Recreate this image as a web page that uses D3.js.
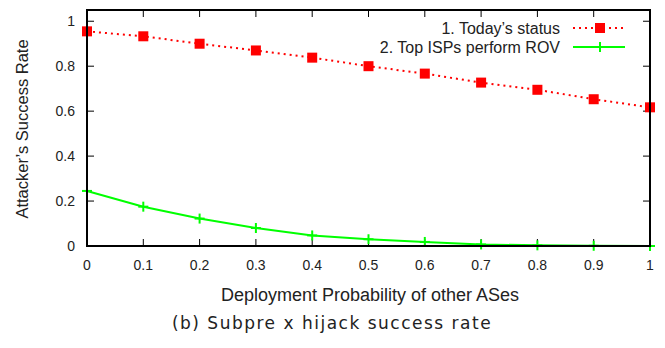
<!DOCTYPE html>
<meta charset="utf-8">
<style>
body{margin:0;background:#fff;}
svg text{font-family:"Liberation Sans",Arial,sans-serif;fill:#222;}
.caption{font-family:"DejaVu Sans",sans-serif;}
</style>
<svg id="chart" width="665" height="348"></svg>
<script src="https://d3js.org/d3.v7.min.js"></script>
<script>
// deployment probability of other ASes
const probs = [0, 0.1, 0.2, 0.3, 0.4, 0.5, 0.6, 0.7, 0.8, 0.9, 1]
const todayStatus = [0.955, 0.933, 0.9, 0.87, 0.838, 0.8, 0.767, 0.727, 0.695, 0.653, 0.617]
const topIspsRov = [0.245, 0.175, 0.122, 0.08, 0.047, 0.03, 0.018, 0.007, 0.003, 0.001, 0.0]
const xTicks = [0, 0.1, 0.2, 0.3, 0.4, 0.5, 0.6, 0.7, 0.8, 0.9, 1]
const yTicks = [0, 0.2, 0.4, 0.6, 0.8, 1]

const svg = d3.select('#chart')
const pLeft = 87, pRight = 650, pTop = 10, pBottom = 246

let x = d3.scaleLinear().domain([0, 1]).range([pLeft, pRight])
let y = d3.scaleLinear().domain([0, 1.05]).range([pBottom, pTop])

// ticks, inward on all four sides
let g = svg.append('g').attr('stroke', '#000').attr('stroke-width', 1)
xTicks.forEach(t => {
  g.append('line').attr('x1', x(t)).attr('x2', x(t)).attr('y1', pBottom).attr('y2', pBottom - 7)
  g.append('line').attr('x1', x(t)).attr('x2', x(t)).attr('y1', pTop).attr('y2', pTop + 7)
})
yTicks.forEach(t => {
  g.append('line').attr('x1', pLeft).attr('x2', pLeft + 7).attr('y1', y(t)).attr('y2', y(t))
  g.append('line').attr('x1', pRight).attr('x2', pRight - 7).attr('y1', y(t)).attr('y2', y(t))
})

svg.selectAll('text.xt').data(xTicks).enter().append('text')
  .attr('x', d => x(d)).attr('y', pBottom + 24)
  .attr('text-anchor', 'middle').style('font-size', '14px')
  .text(d => d)
svg.selectAll('text.yt').data(yTicks).enter().append('text')
  .attr('x', pLeft - 12).attr('y', d => y(d) + 5)
  .attr('text-anchor', 'end').style('font-size', '14px')
  .text(d => d)

// series
let line = d3.line().x((d, i) => x(probs[i])).y(d => y(d))
svg.append('path').datum(todayStatus).attr('d', line)
  .attr('fill', 'none').attr('stroke', '#f00').attr('stroke-width', 2).attr('stroke-dasharray', '2,4')
svg.append('path').datum(topIspsRov).attr('d', line)
  .attr('fill', 'none').attr('stroke', '#0f0').attr('stroke-width', 2)

svg.selectAll('rect.sq').data(todayStatus).enter().append('rect')
  .attr('x', (d, i) => x(probs[i]) - 5).attr('y', d => y(d) - 5)
  .attr('width', 10).attr('height', 10).attr('fill', '#f00')

let plus = svg.append('g').attr('stroke', '#0f0').attr('stroke-width', 2)
topIspsRov.forEach((d, i) => {
  plus.append('line').attr('x1', x(probs[i]) - 5).attr('x2', x(probs[i]) + 5).attr('y1', y(d)).attr('y2', y(d))
  plus.append('line').attr('x1', x(probs[i])).attr('x2', x(probs[i])).attr('y1', y(d) - 5).attr('y2', y(d) + 5)
})

// frame
svg.append('rect').attr('x', pLeft).attr('y', pTop).attr('width', pRight - pLeft).attr('height', pBottom - pTop)
  .attr('fill', 'none').attr('stroke', '#000').attr('stroke-width', 2)

// legend
const legendRows = [
  {label: "1. Today\u2019s status", y: 28, color: '#f00', dash: '2,4', mark: 'square'},
  {label: '2. Top ISPs perform ROV', y: 47, color: '#0f0', dash: null, mark: 'plus'}
]
legendRows.forEach(r => {
  svg.append('text').attr('x', 560).attr('y', r.y + 6).attr('text-anchor', 'end')
    .style('font-size', '16px').text(r.label)
  svg.append('line').attr('x1', 573).attr('x2', 625).attr('y1', r.y).attr('y2', r.y)
    .attr('stroke', r.color).attr('stroke-width', 2).attr('stroke-dasharray', r.dash)
  if (r.mark === 'square') {
    svg.append('rect').attr('x', 595).attr('y', r.y - 5).attr('width', 10).attr('height', 10).attr('fill', r.color)
  } else {
    svg.append('line').attr('x1', 600).attr('x2', 600).attr('y1', r.y - 5).attr('y2', r.y + 5)
      .attr('stroke', r.color).attr('stroke-width', 2)
  }
})

// axis titles
svg.append('text').attr('x', 370).attr('y', 301).attr('text-anchor', 'middle')
  .style('font-size', '18px').text('Deployment Probability of other ASes')
svg.append('text').attr('transform', 'translate(28,129) rotate(-90)')
  .attr('text-anchor', 'middle').style('font-size', '16.5px').text('Attacker\u2019s Success Rate')
svg.append('text').attr('class', 'caption').attr('x', 332).attr('y', 329).attr('text-anchor', 'middle')
  .style('font-size', '17px').style('letter-spacing', '1.5px').text('(b) Subpre  x hijack success rate')
</script>
